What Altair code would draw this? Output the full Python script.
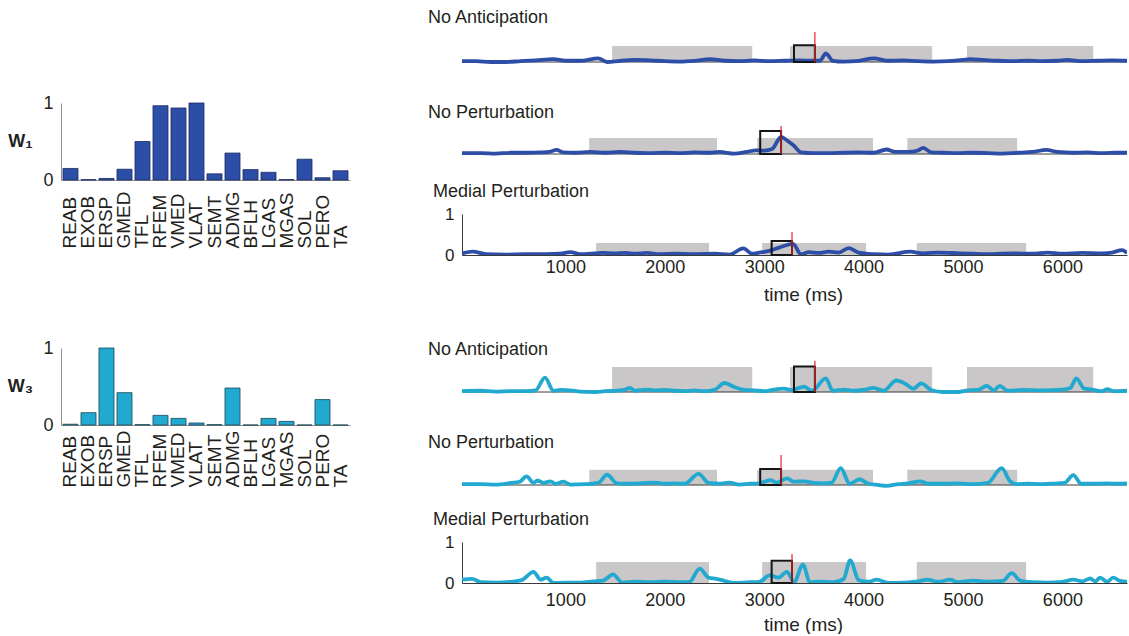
import altair as alt
import pandas as pd

FONT = "Liberation Sans, Arial, Helvetica, sans-serif"
TXT = "#231f20"

# ---------------- data ----------------
MUSCLES = ["REAB", "EXOB", "ERSP", "GMED", "TFL", "RFEM", "VMED", "VLAT",
           "SEMT", "ADMG", "BFLH", "LGAS", "MGAS", "SOL", "PERO", "TA"]
W1 = [0.15, 0.005, 0.02, 0.14, 0.50, 0.965, 0.935, 1.0,
      0.08, 0.35, 0.135, 0.10, 0.005, 0.27, 0.03, 0.12]
W3 = [0.01, 0.16, 1.0, 0.42, 0.005, 0.125, 0.086, 0.026,
      0.005, 0.48, 0.0, 0.086, 0.047, 0.0, 0.33, 0.0]

# shaded stance intervals (ms) per condition
GRAY_NA = [(1470, 2880), (3260, 4690), (5040, 6310)]
GRAY_NP = [(1240, 2525), (2930, 4095), (4440, 5545)]
GRAY_MP = [(1310, 2445), (2980, 4025), (4535, 5635)]
# black analysis window (ms) and red event marker (ms)
BOX_NA, RED_NA = (3300, 3510), 3510
BOX_NP, RED_NP = (2960, 3170), 3170
BOX_MP, RED_MP = (3075, 3280), 3280

# activation traces (time ms, value)
W1_NA = [(-40, 0.02), (100, 0.02), (250, 0.0), (400, 0.0), (550, 0.02), (700, 0.04), (880, 0.07),
         (1000, 0.03), (1150, 0.03), (1330, 0.09), (1420, 0.0), (1550, 0.03), (1700, 0.05),
         (1850, 0.04), (2000, 0.02), (2150, 0.01), (2300, 0.03), (2455, 0.07), (2600, 0.03),
         (2750, 0.02), (2900, 0.04), (3050, 0.02), (3200, 0.03), (3350, 0.04), (3480, 0.03),
         (3560, 0.03), (3620, 0.21), (3690, 0.03), (3800, 0.01), (3950, 0.03), (4100, 0.09),
         (4250, 0.03), (4400, 0.04), (4550, 0.02), (4700, 0.01), (4850, 0.02), (5000, 0.05),
         (5070, 0.07), (5200, 0.05), (5350, 0.03), (5500, 0.02), (5650, 0.03), (5800, 0.02),
         (5950, 0.03), (6050, 0.05), (6200, 0.02), (6350, 0.03), (6500, 0.04), (6650, 0.03)]
W1_NP = [(-40, 0.02), (150, 0.02), (300, 0.01), (450, 0.03), (600, 0.03), (750, 0.04), (850, 0.06),
         (910, 0.1), (980, 0.04), (1100, 0.03), (1250, 0.05), (1400, 0.03), (1550, 0.05),
         (1700, 0.03), (1850, 0.02), (2000, 0.03), (2150, 0.02), (2300, 0.04), (2450, 0.03),
         (2550, 0.05), (2700, 0.01), (2820, 0.05), (2920, 0.09), (3000, 0.08), (3080, 0.12),
         (3170, 0.42), (3230, 0.33), (3300, 0.2), (3370, 0.04), (3500, 0.02), (3650, 0.02),
         (3800, 0.03), (3950, 0.04), (4100, 0.03), (4230, 0.11), (4320, 0.05), (4450, 0.05),
         (4540, 0.08), (4600, 0.15), (4680, 0.04), (4800, 0.03), (4950, 0.02), (5100, 0.03),
         (5250, 0.02), (5400, 0.01), (5550, 0.03), (5700, 0.05), (5840, 0.1), (5950, 0.05),
         (6100, 0.03), (6250, 0.04), (6400, 0.02), (6550, 0.03), (6650, 0.03)]
W1_MP = [(-40, 0.04), (70, 0.08), (200, 0.02), (400, 0.01), (600, 0.02), (800, 0.02), (950, 0.03),
         (1050, 0.07), (1150, 0.02), (1250, 0.03), (1370, 0.05), (1500, 0.04), (1600, 0.05),
         (1700, 0.03), (1820, 0.05), (1950, 0.02), (2100, 0.03), (2300, 0.02), (2500, 0.03),
         (2650, 0.01), (2790, 0.16), (2880, 0.03), (2950, 0.06), (3050, 0.1), (3150, 0.18),
         (3290, 0.27), (3370, 0.02), (3450, 0.07), (3550, 0.05), (3650, 0.08), (3750, 0.06),
         (3850, 0.17), (3960, 0.05), (4100, 0.02), (4250, 0.01), (4470, 0.08), (4600, 0.04),
         (4750, 0.06), (4970, 0.04), (5100, 0.03), (5300, 0.02), (5500, 0.04), (5700, 0.03),
         (5850, 0.06), (6000, 0.03), (6200, 0.05), (6400, 0.04), (6500, 0.06), (6600, 0.12),
         (6650, 0.05)]
W3_NA = [(-40, 0.02), (150, 0.03), (300, 0.01), (450, 0.02), (600, 0.02), (700, 0.04), (795, 0.35),
         (880, 0.03), (950, 0.05), (1050, 0.04), (1150, 0.01), (1300, 0.0), (1400, 0.02),
         (1500, 0.03), (1600, 0.06), (1650, 0.1), (1700, 0.03), (1800, 0.06), (1900, 0.04),
         (2000, 0.05), (2100, 0.03), (2200, 0.02), (2300, 0.04), (2400, 0.02), (2500, 0.05),
         (2600, 0.22), (2700, 0.12), (2800, 0.05), (2900, 0.04), (3000, 0.02), (3100, 0.06),
         (3200, 0.08), (3280, 0.05), (3400, 0.13), (3480, 0.03), (3620, 0.33), (3690, 0.03),
         (3800, 0.06), (3900, 0.03), (4000, 0.05), (4100, 0.1), (4200, 0.03), (4330, 0.28),
         (4420, 0.2), (4500, 0.08), (4580, 0.21), (4680, 0.05), (4800, 0.0), (4950, 0.0),
         (5050, 0.04), (5150, 0.05), (5240, 0.15), (5310, 0.04), (5370, 0.15), (5450, 0.03),
         (5600, 0.05), (5800, 0.04), (6000, 0.06), (6080, 0.1), (6140, 0.33), (6220, 0.08),
         (6300, 0.06), (6400, 0.02), (6450, 0.07), (6520, 0.02), (6650, 0.03)]
W3_NP = [(-40, 0.02), (150, 0.02), (300, 0.01), (450, 0.05), (540, 0.08), (610, 0.21), (680, 0.05),
         (720, 0.11), (780, 0.05), (850, 0.09), (900, 0.03), (980, 0.08), (1050, 0.01),
         (1200, 0.02), (1330, 0.05), (1420, 0.25), (1520, 0.04), (1600, 0.03), (1750, 0.04),
         (1900, 0.06), (2000, 0.03), (2100, 0.04), (2200, 0.03), (2340, 0.27), (2440, 0.05),
         (2550, 0.03), (2650, 0.06), (2750, 0.01), (2850, 0.03), (2950, 0.04), (3060, 0.12),
         (3130, 0.06), (3230, 0.16), (3300, 0.08), (3400, 0.09), (3500, 0.05), (3600, 0.04),
         (3680, 0.06), (3770, 0.41), (3860, 0.03), (3960, 0.14), (4050, 0.03), (4150, 0.0),
         (4230, -0.02), (4350, 0.02), (4450, 0.04), (4570, 0.09), (4650, 0.03), (4800, 0.03),
         (4950, 0.04), (5100, 0.02), (5250, 0.05), (5390, 0.41), (5470, 0.1), (5540, 0.02),
         (5650, 0.03), (5800, 0.02), (5950, 0.04), (6020, 0.05), (6110, 0.24), (6190, 0.03),
         (6300, 0.03), (6450, 0.04), (6550, 0.03), (6650, 0.04)]
W3_MP = [(-40, 0.08), (60, 0.1), (150, 0.02), (300, 0.01), (450, 0.03), (560, 0.07), (680, 0.27),
         (750, 0.08), (810, 0.13), (880, 0.0), (1000, 0.01), (1150, 0.01), (1280, 0.04),
         (1380, 0.06), (1480, 0.21), (1570, 0.01), (1700, 0.03), (1850, 0.02), (2000, 0.03),
         (2150, 0.02), (2250, 0.03), (2350, 0.35), (2440, 0.13), (2520, 0.1), (2590, 0.06),
         (2700, 0.0), (2850, 0.02), (2950, 0.03), (3060, 0.19), (3140, 0.13), (3230, 0.27),
         (3300, 0.02), (3390, 0.45), (3460, 0.02), (3550, 0.03), (3700, 0.02), (3800, 0.1),
         (3865, 0.55), (3950, 0.07), (4050, 0.03), (4130, 0.08), (4250, 0.0), (4400, 0.01),
         (4550, 0.04), (4640, 0.08), (4750, 0.03), (4870, 0.08), (4950, 0.02), (5100, 0.06),
         (5250, 0.03), (5400, 0.05), (5490, 0.24), (5580, 0.05), (5700, 0.02), (5850, 0.01),
         (6000, 0.03), (6110, 0.08), (6200, 0.04), (6280, 0.11), (6330, 0.04), (6380, 0.13),
         (6450, 0.03), (6510, 0.13), (6580, 0.05), (6650, 0.03)]

# heights (activation units) of gray band, black box and red marker, per panel
GRAY_H = [0.39, 0.39, 0.29, 0.61, 0.37, 0.51]
BOX_H = [0.41, 0.56, 0.34, 0.62, 0.39, 0.54]
RED_H = [0.73, 0.68, 0.56, 0.76, 0.73, 0.71]

TITLES = ["No Anticipation", "No Perturbation", "Medial Perturbation"]
TICKS = [1000, 2000, 3000, 4000, 5000, 6000]

# ---------------- styling / layout ----------------
BLUE, BLUE_EDGE = "#2d4ea7", "#1b2b62"
CYAN, CYAN_EDGE = "#22a9cf", "#1b4656"
GRAY = "#c9c7c7"
LW = 289          # bar panel width
RW = 665          # trace panel width
XDOM = [-40, 6650]
PPU = 41.0        # pixels per activation unit in trace panels


def spacer(w, h, pin=False):
    if pin:
        enc = dict(x=alt.value(-61), x2=alt.value(0), y=alt.value(-27), y2=alt.value(0))
    else:
        enc = dict(x=alt.value(0), x2=alt.value(1), y=alt.value(0), y2=alt.value(1))
    return alt.Chart(pd.DataFrame({"a": [0]})).mark_rect(opacity=0).encode(**enc).properties(
        width=w, height=h)


def bar_panel(vals, color, edge, sub, lab_pad):
    df = pd.DataFrame({"muscle": MUSCLES, "w": vals})
    return alt.Chart(df).mark_bar(color=color, stroke=edge, strokeWidth=0.8).encode(
        x=alt.X("muscle:N", sort=MUSCLES,
                scale=alt.Scale(paddingInner=0.165, paddingOuter=0.11),
                axis=alt.Axis(title=None, labelAngle=-90, labelAlign="left",
                              labelBaseline="middle", labelFontSize=19, labelPadding=lab_pad,
                              ticks=False, domainColor="#8c8c8c", labelColor=TXT)),
        y=alt.Y("w:Q", scale=alt.Scale(domain=[0, 1], nice=False),
                axis=alt.Axis(values=[0, 1], format="d", title="W" + sub, titleAngle=0,
                              titleX=-41, titleY=38, titleAlign="center",
                              titleBaseline="middle", titleFontSize=18,
                              titleFontWeight="bold", titleColor=TXT, labelFontSize=18,
                              labelColor=TXT, labelPadding=8, ticks=False, grid=False,
                              domainColor="#8c8c8c")),
    ).properties(width=LW, height=77)


def trace_panel(title, trace, color, gray, box, red, gh, bh, rh,
                above_px, height, axes, t_off, t_dx, lab_pad=4, tit_pad=8):
    if axes:
        ydom = [0, 1]
        xax = alt.Axis(values=TICKS, format="d", title="time (ms)", ticks=False,
                       labelFontSize=18, labelColor=TXT, labelPadding=lab_pad,
                       titleFontSize=19, titleFontWeight="normal", titleColor=TXT,
                       titlePadding=tit_pad, titleX=341, domainColor="#3a3a3a", grid=False)
        yax = alt.Axis(values=[0, 1], format="d", title=None, ticks=False, labelFontSize=17,
                       labelColor=TXT, labelPadding=8, domainColor="#3a3a3a", grid=False)
    else:
        hi = above_px / PPU
        ydom = [hi - height / PPU, hi]
        xax = None
        yax = None
    xs = alt.Scale(domain=XDOM, nice=False, zero=False)
    ys = alt.Scale(domain=ydom, nice=False, zero=False)

    def X(f="t"):
        return alt.X(f + ":Q", scale=xs, axis=xax)

    def Y(f="v"):
        return alt.Y(f + ":Q", scale=ys, axis=yax)

    gdf = pd.DataFrame({"t": [g[0] for g in gray], "t2": [g[1] for g in gray],
                        "v": [0.0] * len(gray), "v2": [gh] * len(gray)})
    bdf = pd.DataFrame({"t": [box[0]], "t2": [box[1]], "v": [0.0], "v2": [bh]})
    rdf = pd.DataFrame({"t": [red], "v": [0.0], "v2": [rh]})
    ldf = pd.DataFrame({"t": [p[0] for p in trace], "v": [p[1] for p in trace]})

    layers = [alt.Chart(gdf).mark_rect(color=GRAY).encode(x=X(), x2="t2", y=Y(), y2="v2")]
    if not axes:
        zdf = pd.DataFrame({"t": [XDOM[0] + 0.0], "t2": [XDOM[1] + 0.0], "v": [0.0]})
        layers.append(alt.Chart(zdf).mark_rule(color="#3a3a3a", strokeWidth=1).encode(
            x=X(), x2="t2", y=Y()))
    layers.append(alt.Chart(ldf).mark_line(color=color, strokeWidth=3.8, interpolate="monotone",
                                           clip=True).encode(x=X(), y=Y()))
    layers.append(alt.Chart(bdf).mark_rect(fill=None, stroke="#151515", strokeWidth=2).encode(
        x=X(), x2="t2", y=Y(), y2="v2"))
    layers.append(alt.Chart(rdf).mark_rule(color="#e3262b", strokeWidth=1.2).encode(
        x=X(), y=Y(), y2="v2"))
    return alt.layer(*layers).properties(
        width=RW, height=height,
        title=alt.TitleParams(title, anchor="start", frame="group", fontSize=18,
                              fontWeight="normal", color=TXT, font=FONT, offset=t_off,
                              dx=t_dx))


# rows (top px): 27, 103, 214, 255, 348, 452, 542
p1 = trace_panel(TITLES[0], W1_NA, BLUE, GRAY_NA, BOX_NA, RED_NA, GRAY_H[0], BOX_H[0], RED_H[0],
                 35, 76, False, 0, -34)
p2 = trace_panel(TITLES[1], W1_NP, BLUE, GRAY_NP, BOX_NP, RED_NP, GRAY_H[1], BOX_H[1], RED_H[1],
                 51, 111, False, -19, -34)
p3 = trace_panel(TITLES[2], W1_MP, BLUE, GRAY_MP, BOX_MP, RED_MP, GRAY_H[2], BOX_H[2], RED_H[2],
                 41, 41, True, 4, -29, lab_pad=3, tit_pad=9)
p4 = trace_panel(TITLES[0], W3_NA, CYAN, GRAY_NA, BOX_NA, RED_NA, GRAY_H[3], BOX_H[3], RED_H[3],
                 44, 104, False, -11, -34)
p5 = trace_panel(TITLES[1], W3_NP, CYAN, GRAY_NP, BOX_NP, RED_NP, GRAY_H[4], BOX_H[4], RED_H[4],
                 33, 90, False, 0, -34)
p6 = trace_panel(TITLES[2], W3_MP, CYAN, GRAY_MP, BOX_MP, RED_MP, GRAY_H[5], BOX_H[5], RED_H[5],
                 41, 41, True, 4, -29, lab_pad=8, tit_pad=6)

w1 = bar_panel(W1, BLUE, BLUE_EDGE, "\u2081", 68)
w3 = bar_panel(W3, CYAN, CYAN_EDGE, "\u2083", 62)

left_cells = [spacer(LW, 76, pin=True), w1, spacer(LW, 1), spacer(LW, 93), w3,
              spacer(LW, 1), spacer(LW, 1)]
right_cells = [p1, p2, p3, spacer(RW, 93), p4, p5, p6]
cells = []
for lc, rc in zip(left_cells, right_cells):
    cells += [lc, rc]

chart = alt.concat(*cells, columns=2, align="none", bounds="flush",
                   spacing=alt.RowColnumber(row=0, column=112)).properties(
    padding=0, background="white"
).configure(font=FONT).configure_view(stroke=None)

chart.save("out.html", embed_options={"renderer": "svg", "actions": False})
